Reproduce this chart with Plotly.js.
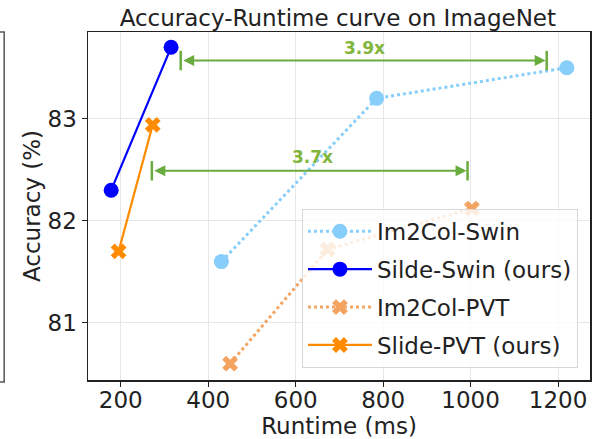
<!DOCTYPE html>
<html>
<head>
<meta charset="utf-8">
<script src="https://cdn.plot.ly/plotly-3.0.1.min.js"></script>
<style>html,body{margin:0;padding:0;background:#fff;}#chart{width:599px;height:439px;}</style>
</head>
<body>
<div id="chart"></div>
<script>
// Data
const im2colSwinRuntime = [430, 785, 1220];
const im2colSwinAcc = [81.6, 83.2, 83.5];
const slideSwinRuntime = [178, 315];
const slideSwinAcc = [82.3, 83.7];
const im2colPvtRuntime = [450, 673, 1003];
const im2colPvtAcc = [80.6, 81.72, 82.12];
const slidePvtRuntime = [195, 273];
const slidePvtAcc = [81.7, 82.94];

const seriesNames = ["Im2Col-Swin", "Silde-Swin (ours)", "Im2Col-PVT", "Slide-PVT (ours)"];

// Speed-up arrows
const speedupLabels = ["3.9x", "3.7x"];
const arrowStart = [337, 271];
const arrowEnd = [1174, 993];
const arrowAcc = [83.57, 82.49];
const labelRuntime = [758, 639];
const labelAcc = [83.69, 82.63];

const xTicks = [200, 400, 600, 800, 1000, 1200];
const yTicks = [81, 82, 83];

const green = "#6aab3e";
const greenText = "#82b53c";
const font = "DejaVu Sans, sans-serif";

const traces = [
  {x: im2colSwinRuntime, y: im2colSwinAcc, name: seriesNames[0], mode: "lines+markers", legendgroup: "a",
   line: {color: "#87CEFA", width: 3, dash: "dot"}, marker: {color: "#87CEFA", size: 15, symbol: "circle"}},
  {x: slideSwinRuntime, y: slideSwinAcc, name: seriesNames[1], mode: "lines+markers", legendgroup: "b",
   line: {color: "#0000FF", width: 2.2}, marker: {color: "#0000FF", size: 15, symbol: "circle"}},
  {x: im2colPvtRuntime, y: im2colPvtAcc, name: seriesNames[2], mode: "lines+markers", legendgroup: "c",
   line: {color: "#F4A460", width: 3, dash: "dot"}, marker: {color: "#F4A460", size: 14, symbol: "x"}},
  {x: slidePvtRuntime, y: slidePvtAcc, name: seriesNames[3], mode: "lines+markers", legendgroup: "d",
   line: {color: "#FF8C00", width: 2.2}, marker: {color: "#FF8C00", size: 14, symbol: "x"}}
];

const shapes = [];
const annotations = [];
for (let i = 0; i < speedupLabels.length; i++) {
  // end bars
  [arrowStart[i], arrowEnd[i]].forEach(function (xv) {
    shapes.push({type: "line", xref: "x", yref: "y", x0: xv, x1: xv, y0: arrowAcc[i] - 0.095, y1: arrowAcc[i] + 0.095,
      line: {color: green, width: 2.5}});
  });
  annotations.push({x: arrowEnd[i], y: arrowAcc[i], ax: arrowStart[i], ay: arrowAcc[i], xref: "x", yref: "y",
    axref: "x", ayref: "y", text: "", showarrow: true, arrowhead: 2, arrowside: "end+start",
    arrowsize: 1.1, arrowwidth: 2, arrowcolor: green, standoff: 1, startstandoff: 1});
  annotations.push({x: labelRuntime[i], y: labelAcc[i], xref: "x", yref: "y", text: "<b>" + speedupLabels[i] + "</b>",
    showarrow: false, font: {family: font, size: 17, color: greenText}});
}

// right edge of the neighbouring panel, cut off at the left border of the picture
shapes.push({type: "path", xref: "paper", yref: "paper",
  path: "M -0.176 1 L -0.167 1 L -0.167 -0.006 L -0.176 -0.006", line: {color: "#555", width: 1.5}});

const layout = {
  width: 599, height: 439,
  margin: {l: 88, r: 9, t: 32, b: 59},
  paper_bgcolor: "#fff", plot_bgcolor: "#fff",
  font: {family: font, color: "#222"},
  title: {text: "Accuracy-Runtime curve on ImageNet", font: {family: font, size: 23, color: "#222"},
    x: 0.564, xanchor: "center", y: 0.96, yanchor: "middle"},
  xaxis: {range: [125, 1273], tickvals: xTicks, ticktext: xTicks.map(String), ticks: "outside", ticklen: 5,
    tickcolor: "#222", tickfont: {size: 23}, ticklabelstandoff: -6, showgrid: true, gridcolor: "#e6e6e6", gridwidth: 1,
    showline: true, linecolor: "#222", linewidth: 1.5, mirror: true, zeroline: false,
    title: {text: "Runtime (ms)", font: {size: 23}, standoff: 2}},
  yaxis: {range: [80.44, 83.85], tickvals: yTicks, ticktext: yTicks.map(String), ticks: "outside", ticklen: 5,
    tickcolor: "#222", tickfont: {size: 23}, showgrid: true, gridcolor: "#e6e6e6", gridwidth: 1,
    showline: true, linecolor: "#222", linewidth: 1.5, mirror: true, zeroline: false,
    title: {text: "Accuracy (%)", font: {size: 23}, standoff: 0}},
  legend: {x: 0.976, y: 0.035, xanchor: "right", yanchor: "bottom", bgcolor: "rgba(255,255,255,0.8)",
    bordercolor: "#d8d8d8", borderwidth: 1, font: {size: 23, color: "#222"}, tracegroupgap: 5,
    traceorder: "grouped", itemwidth: 64},
  shapes: shapes,
  annotations: annotations,
  showlegend: true
};

Plotly.newPlot("chart", traces, layout, {displayModeBar: false, staticPlot: true});
</script>
</body>
</html>
